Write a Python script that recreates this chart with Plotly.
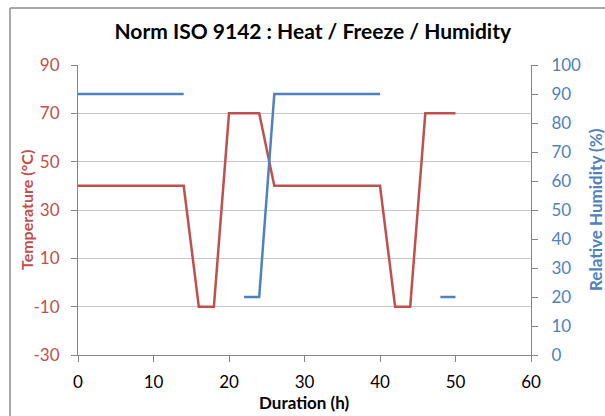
import plotly.graph_objects as go

temp_x = [0, 14, 16, 18, 20, 24, 26, 40, 42, 44, 46, 50]
temp_y = [40, 40, -10, -10, 70, 70, 40, 40, -10, -10, 70, 70]

hum_x = [0, 14, None, 22, 24, 26, 40, None, 48, 50]
hum_y = [90, 90, None, 20, 20, 90, 90, None, 20, 20]

temp_ticks = [-30, -10, 10, 30, 50, 70, 90]
temp_ticktext = ["-30", "-10", "10", "30", "50", "70", "90"]

RED = "#C0504D"
BLUE = "#4F81BD"
FONT = "Lato, Open Sans, sans-serif"

fig = go.Figure()
fig.add_trace(go.Scatter(x=temp_x, y=temp_y, mode="lines", line=dict(color=RED, width=2.5),
                         name="Temperature", yaxis="y"))
fig.add_trace(go.Scatter(x=hum_x, y=hum_y, mode="lines", line=dict(color=BLUE, width=2.5),
                         name="Humidity", yaxis="y2", connectgaps=False))

fig.update_layout(
    width=605, height=416,
    margin=dict(l=78, r=74, t=65, b=61, autoexpand=False),
    paper_bgcolor="white", plot_bgcolor="white",
    showlegend=False,
    font=dict(family=FONT),
    title=dict(text="<b>Norm ISO 9142 : Heat / Freeze / Humidity</b>", x=0.517, xanchor="center",
               xref="container", yref="container",
               y=0.925, yanchor="middle", font=dict(size=21, color="#000000", family=FONT)),
    xaxis=dict(range=[0, 60], dtick=10, tick0=0, showgrid=False, zeroline=False,
               showline=True, linecolor="#868686", linewidth=1, automargin=False,
               ticks="outside", ticklen=6, tickcolor="#868686", ticklabelstandoff=6,
               tickfont=dict(size=17, color="#000000")),
    yaxis=dict(range=[-30, 90], tickvals=temp_ticks, ticktext=temp_ticktext,
               showgrid=True, gridcolor="#C8C8C8", gridwidth=1, automargin=False,
               zeroline=False, showline=True, linecolor="#868686", linewidth=1,
               ticks="outside", ticklen=6, tickcolor="#868686", ticklabelstandoff=8,
               tickfont=dict(size=17, color=RED)),
    yaxis2=dict(range=[0, 100], dtick=10, overlaying="y", side="right", showgrid=False,
                zeroline=False, showline=True, linecolor="#868686", linewidth=1, automargin=False,
                ticks="outside", ticklen=6, tickcolor="#868686", ticklabelstandoff=10,
                tickfont=dict(size=17, color=BLUE)),
)

fig.add_annotation(text="<b>Duration (h)</b>", xref="paper", yref="paper", x=0.5, y=-0.1655,
                   xanchor="center", yanchor="middle", showarrow=False,
                   font=dict(size=17, color="#000000", family=FONT))
fig.add_annotation(text="<b>Temperature (°C)</b>", xref="paper", yref="paper", x=-0.1148, y=0.5,
                   xanchor="center", yanchor="middle", showarrow=False, textangle=-90,
                   font=dict(size=16, color=RED, family=FONT))
fig.add_annotation(text="<b>Relative Humidity (%)</b>", xref="paper", yref="paper", x=1.1413, y=0.5,
                   xanchor="center", yanchor="middle", showarrow=False, textangle=-90,
                   font=dict(size=17, color=BLUE, family=FONT))

# chart frame (left and top edges visible)
fig.add_shape(type="line", xref="paper", yref="paper", x0=-0.1501, x1=-0.1501, y0=-0.22, y1=1.1966,
              line=dict(color="#8C8C8C", width=1.5), layer="above")
fig.add_shape(type="line", xref="paper", yref="paper", x0=-0.1501, x1=1.17, y0=1.1966, y1=1.1966,
              line=dict(color="#8C8C8C", width=1.5), layer="above")

fig.write_html("out.html", config={"displayModeBar": False},
               post_script="document.body.style.margin='0';document.body.style.overflow='hidden';")
